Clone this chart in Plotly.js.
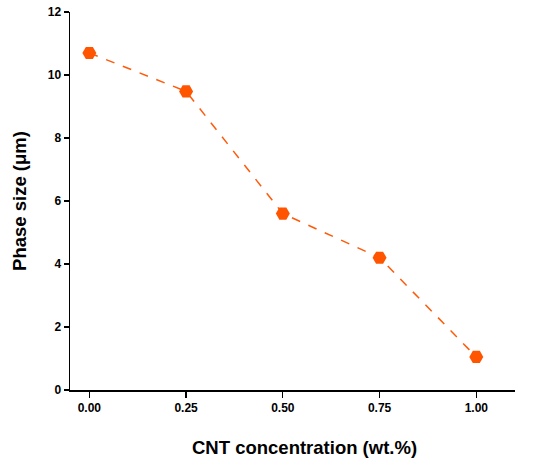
<!DOCTYPE html>
<html><head><meta charset="utf-8">
<script src="https://cdn.plot.ly/plotly-3.0.1.min.js"></script>
<style>html,body{margin:0;padding:0;background:#fff}#c{width:550px;height:466px}</style>
</head><body><div id="c"></div>
<script>
const cnt = [0.00, 0.25, 0.50, 0.75, 1.00];
const phaseSize = [10.7, 9.48, 5.6, 4.2, 1.05];
const xTicks = [0, 0.25, 0.5, 0.75, 1.0];
const xTickLabels = ['0.00', '0.25', '0.50', '0.75', '1.00'];
const yTicks = [0, 2, 4, 6, 8, 10, 12];
const xTitle = 'CNT concentration (wt.%)';
const yTitle = 'Phase size (μm)';

const trace = {
  x: cnt, y: phaseSize, type: 'scatter', mode: 'lines+markers',
  line: {color: '#FF5A0A', width: 1.5, dash: 'dash'},
  marker: {symbol: 'hexagon2', size: 14, color: '#FF5500'},
  cliponaxis: false, showlegend: false
};
const FAM = 'Liberation Sans, Arial, sans-serif';
const fontBold = {family: FAM, size: 12, color: '#000', weight: 'bold'};
const layout = {
  width: 550, height: 466,
  margin: {l: 70, r: 35, t: 12, b: 76},
  paper_bgcolor: '#fff', plot_bgcolor: '#fff',
  font: {family: FAM},
  xaxis: {
    range: [-0.05, 1.10], tickvals: xTicks, ticktext: xTickLabels,
    showline: true, linecolor: '#000', linewidth: 1.5, showgrid: false, zeroline: false,
    ticks: 'outside', ticklen: 6, tickwidth: 1.2, tickcolor: '#000',
    tickfont: fontBold
  },
  yaxis: {
    range: [0, 12], tickvals: yTicks,
    showline: true, linecolor: '#000', linewidth: 1.5, showgrid: false, zeroline: false,
    ticks: 'outside', ticklen: 5, tickwidth: 1.2, tickcolor: '#000',
    tickfont: fontBold,
    title: {text: yTitle, font: {family: FAM, size: 18.5, color: '#000', weight: 'bold'}, standoff: 16}
  },
  annotations: [{
    text: xTitle, xref: 'paper', yref: 'paper', x: 0.526, y: -0.151,
    xanchor: 'center', yanchor: 'middle', showarrow: false,
    font: {family: FAM, size: 18.5, color: '#000', weight: 'bold'}
  }]
};
Plotly.newPlot('c', [trace], layout, {displayModeBar: false, staticPlot: true});
</script></body></html>
